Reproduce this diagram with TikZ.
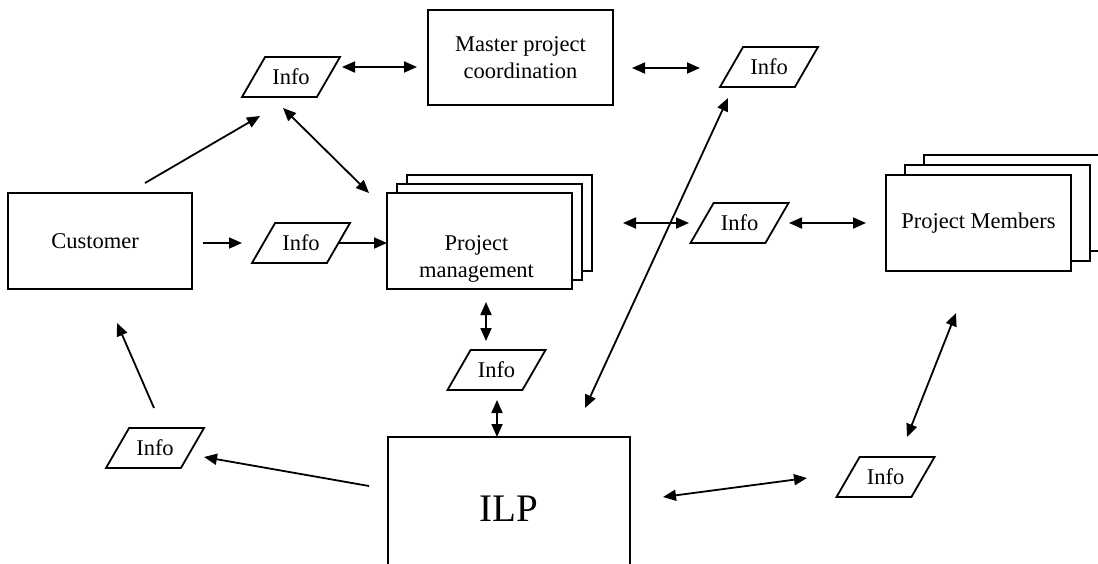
\documentclass[tikz,border=0pt]{standalone}
\usepackage{fontspec}
\setmainfont{Liberation Serif}
\usetikzlibrary{shapes.geometric,arrows.meta,backgrounds}
\begin{document}
\begin{tikzpicture}[x=1pt,y=-1pt,
  every node/.style={font=\fontsize{22.5}{27}\selectfont},
  box/.style={draw, line width=1.8pt, inner sep=0pt, outer sep=0pt, fill=white},
  info/.style={draw, line width=1.8pt, trapezium, trapezium left angle=60,
    trapezium right angle=120, trapezium stretches body=true,
    text height=15pt, text depth=1pt, inner xsep=0pt, inner ysep=12pt,
    minimum width=98pt, outer sep=0pt},
  conn/.style={line width=1.8pt, -{Triangle[length=13pt,width=11pt]}},
  biconn/.style={line width=1.8pt, {Triangle[length=13pt,width=11pt]}-{Triangle[length=13pt,width=11pt]}},
  backbox/.style={draw, line width=1.8pt, fill=white}
]
\useasboundingbox (0,0) rectangle (1098,563);

% main boxes
\node[box, minimum width=185pt, minimum height=95pt, align=center] (master) at (520.5,57.5) {Master project\\coordination};
\node[box, minimum width=184pt, minimum height=96pt] (cust) at (100,241) {\hspace*{-10pt}Customer};
\node[box, minimum width=185pt, minimum height=96pt,
  label={[align=center, yshift=-18pt, xshift=-3pt]center:Project\\management}] (pm) at (479.5,241) {};
\node[box, minimum width=185pt, minimum height=96pt] (mem) at (978.5,223) {Project Members};
\node[box, minimum width=242pt, minimum height=143pt, font=\fontsize{39}{44}\selectfont] (ilp) at (509,508.5) {ILP};

% stacked copies behind
\begin{scope}[on background layer]
\draw[backbox] ([shift={(20,-18)}]pm.south west) rectangle ([shift={(20,-18)}]pm.north east);
\draw[backbox] ([shift={(10,-9)}]pm.south west) rectangle ([shift={(10,-9)}]pm.north east);
\draw[backbox] ([shift={(38,-20)}]mem.south west) rectangle ([shift={(38,-20)}]mem.north east);
\draw[backbox] ([shift={(19,-10)}]mem.south west) rectangle ([shift={(19,-10)}]mem.north east);
\end{scope}

% info parallelograms
\node[info] (i1) at (291,77) {Info};
\node[info] (i2) at (301,243) {Info};
\node[info] (i3) at (769,67) {Info};
\node[info] (i4) at (739.5,223) {Info};
\node[info] (i5) at (496.5,370) {Info};
\node[info] (i6) at (155,448) {Info};
\node[info] (i7) at (885.5,477) {Info};

% connectors
\draw[conn] ([shift={(45,-10)}]cust.north) -- ([shift={(-31,39)}]i1.center);
\draw[biconn] ([shift={(51,-10)}]i1.center) -- ([shift={(-11,9.5)}]master.west);
\draw[biconn] ([shift={(-8,31)}]i1.center) -- ([shift={(-18,0)}]pm.north west);
\draw[biconn] ([shift={(19,10.5)}]master.east) -- ([shift={(-69,1)}]i3.center);
\draw[biconn] ([shift={(76,-29)}]ilp.north) -- ([shift={(-41,31)}]i3.center);
\draw[biconn] ([shift={(51,-18)}]pm.east) -- ([shift={(-50.5,0)}]i4.center);
\draw[biconn] ([shift={(49.5,0)}]i4.center) -- ([shift={(-20,0)}]mem.west);
\draw[conn] ([shift={(11,2)}]cust.east) -- ([shift={(-59,0)}]i2.center);
\draw[conn] ([shift={(37,0)}]i2.center) -- ([shift={(0,2)}]pm.west);
\draw[biconn] ([shift={(6.5,13)}]pm.south) -- ([shift={(-10.5,-29)}]i5.center);
\draw[biconn] ([shift={(0.5,30)}]i5.center) -- ([shift={(-12,0)}]ilp.north);
\draw[conn] ([shift={(-1,-40)}]i6.center) -- ([shift={(17,34)}]cust.south);
\draw[conn] ([shift={(-19,-22.5)}]ilp.west) -- ([shift={(49,9)}]i6.center);
\draw[biconn] ([shift={(33,-11.5)}]ilp.east) -- ([shift={(-78.5,1)}]i7.center);
\draw[biconn] ([shift={(21.5,-40)}]i7.center) -- ([shift={(-22.5,42)}]mem.south);
\end{tikzpicture}
\end{document}
